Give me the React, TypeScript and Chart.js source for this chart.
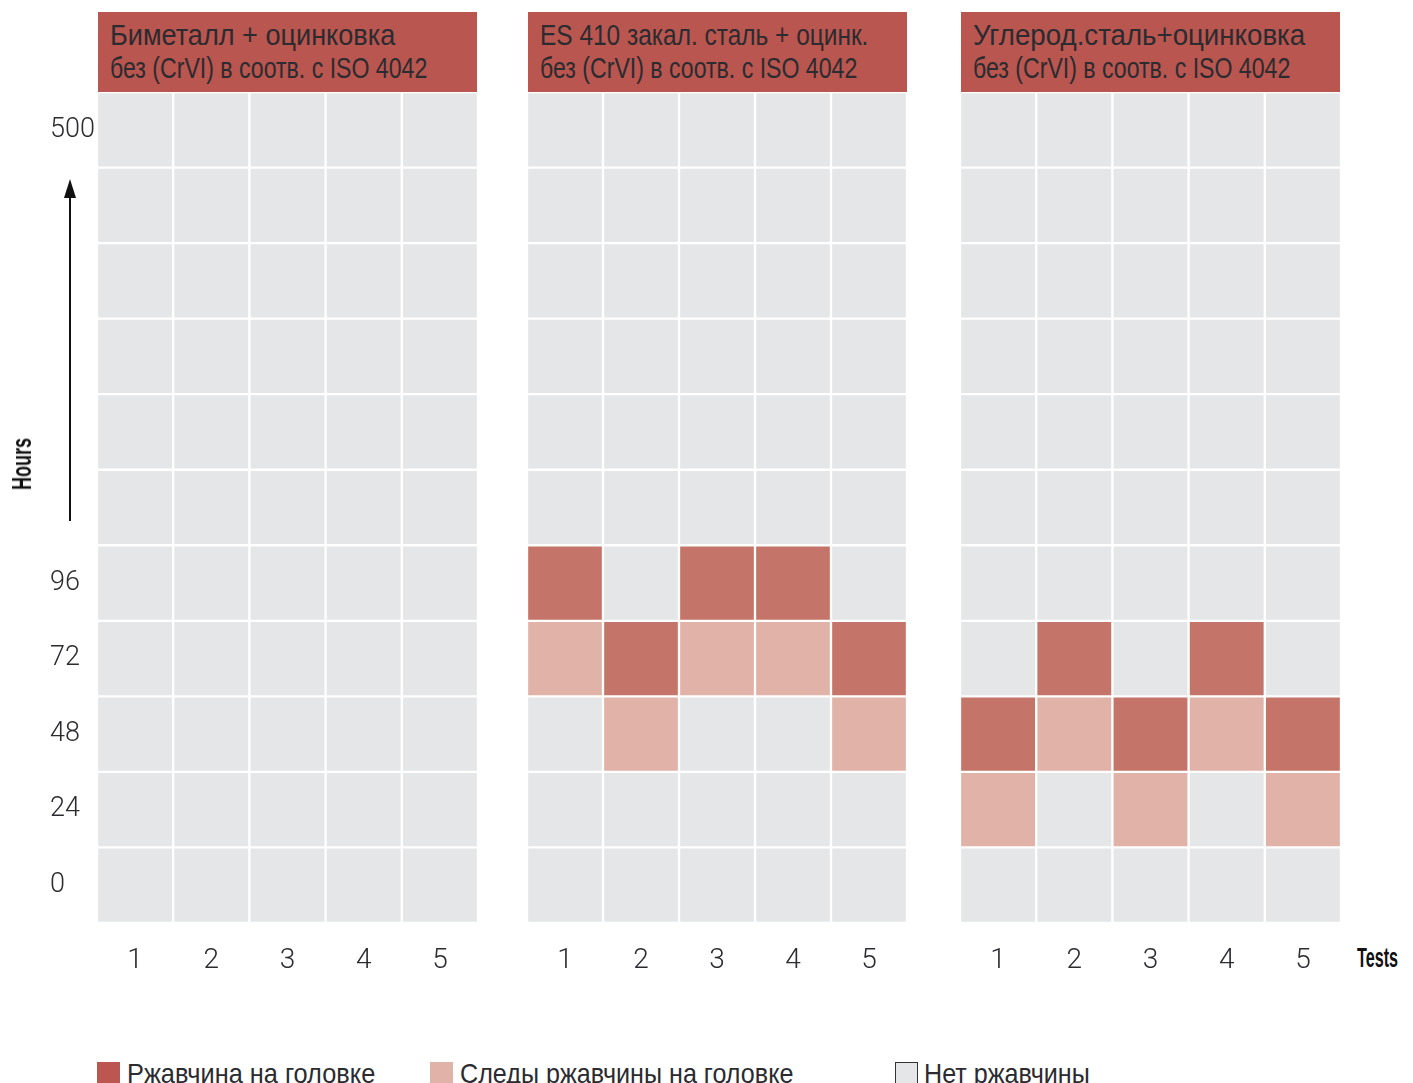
import React, { useEffect, useLayoutEffect, useRef, useState } from 'react';
import { Chart, registerables } from 'chart.js';

Chart.register(...registerables);

// ---------- data ----------
const tests = ['1', '2', '3', '4', '5'];
// row labels, bottom to top (hours)
const hourRowsBottomUp = ['0', '24', '48', '72', '96', '', '', '', '', '', '500'];
// status codes: 0 = no rust, 1 = traces of rust on head, 2 = rust on head
const statusLabels = ['Нет ржавчины', 'Следы ржавчины на головке', 'Ржавчина на головке'];
const statusColors = ['#e5e6e8', '#e0b2a8', '#c47468'];

const panelTitles = [
  ['Биметалл + оцинковка', 'без (CrVI) в соотв. с ISO 4042'],
  ['ES 410 закал. сталь + оцинк.', 'без (CrVI) в соотв. с ISO 4042'],
  ['Углерод.сталь+оцинковка', 'без (CrVI) в соотв. с ISO 4042'],
];

// rows bottom-up (0h, 24h, 48h, 72h, 96h, 5 blank rows, 500h), one value per test
const bimetalRows = [
  [0, 0, 0, 0, 0],
  [0, 0, 0, 0, 0],
  [0, 0, 0, 0, 0],
  [0, 0, 0, 0, 0],
  [0, 0, 0, 0, 0],
  [0, 0, 0, 0, 0],
  [0, 0, 0, 0, 0],
  [0, 0, 0, 0, 0],
  [0, 0, 0, 0, 0],
  [0, 0, 0, 0, 0],
  [0, 0, 0, 0, 0],
];
const es410Rows = [
  [0, 0, 0, 0, 0],
  [0, 0, 0, 0, 0],
  [0, 1, 0, 0, 1],
  [1, 2, 1, 1, 2],
  [2, 0, 2, 2, 0],
  [0, 0, 0, 0, 0],
  [0, 0, 0, 0, 0],
  [0, 0, 0, 0, 0],
  [0, 0, 0, 0, 0],
  [0, 0, 0, 0, 0],
  [0, 0, 0, 0, 0],
];
const carbonRows = [
  [0, 0, 0, 0, 0],
  [1, 0, 1, 0, 1],
  [2, 1, 2, 1, 2],
  [0, 2, 0, 2, 0],
  [0, 0, 0, 0, 0],
  [0, 0, 0, 0, 0],
  [0, 0, 0, 0, 0],
  [0, 0, 0, 0, 0],
  [0, 0, 0, 0, 0],
  [0, 0, 0, 0, 0],
  [0, 0, 0, 0, 0],
];
const panelRows = [bimetalRows, es410Rows, carbonRows];

// ---------- layout / style ----------
const TICK_FONT = "Roboto, 'Liberation Sans', sans-serif";
const TEXT_FONT = "'Liberation Sans', Arial, sans-serif";
const TEXT_COLOR = '#2b2b30';
const CANVAS_TOP = 92;
const AREA_H = 831;
const X_AXIS_H = 90;
const panels = [
  { left: 0, width: 478, yAxis: true },
  { left: 527, width: 380, yAxis: false },
  { left: 960, width: 381, yAxis: false },
];
const headerLefts = [98, 528, 961];
const headerLine1Widths = [285, 328, 332];
const headerLine2Width = 317;

function FitText({ text, width, origin = 'left center', style }: { text: string; width: number; origin?: string; style?: any }) {
  const ref = useRef<HTMLSpanElement | null>(null);
  const [scale, setScale] = useState(1);
  useLayoutEffect(() => {
    if (ref.current) {
      const w = ref.current.offsetWidth;
      if (w > 0) setScale(width / w);
    }
  }, [text, width]);
  return (
    <span
      ref={ref}
      style={{ display: 'inline-block', whiteSpace: 'nowrap', transformOrigin: origin, transform: `scaleX(${scale})`, ...style }}
    >
      {text}
    </span>
  );
}

function Panel({ idx }: { idx: number }) {
  const ref = useRef<HTMLCanvasElement | null>(null);
  const p = panels[idx];
  useEffect(() => {
    if (!ref.current) return;
    const rows = panelRows[idx];
    const tickFont = { family: TICK_FONT, size: 28, weight: '300' as any };
    const scales: any = {
      x: {
        stacked: true,
        grid: { display: false, drawTicks: false },
        border: { display: false },
        ticks: { padding: 21, color: TEXT_COLOR, font: tickFont },
        afterFit: (s: any) => { s.height = X_AXIS_H; s.paddingLeft = 0; s.paddingRight = 0; },
      },
      y: { stacked: true, min: 0, max: hourRowsBottomUp.length, display: false },
    };
    if (p.yAxis) {
      scales.yLab = {
        type: 'category',
        labels: [...hourRowsBottomUp].reverse(),
        offset: true,
        position: 'left',
        grid: { display: false, drawTicks: false },
        border: { display: false },
        ticks: { crossAlign: 'far', padding: 0, color: TEXT_COLOR, font: { ...tickFont, size: 27 }, autoSkip: false },
        afterFit: (s: any) => { s.width = 47; s.paddingTop = 0; s.paddingBottom = 0; },
      };
    }
    const chart = new Chart(ref.current, {
      type: 'bar',
      data: {
        labels: tests,
        datasets: rows.map((row, r) => ({
          label: hourRowsBottomUp[r] + 'h',
          data: row.map(() => 1),
          backgroundColor: row.map((s) => statusColors[s]),
          borderColor: '#ffffff',
          borderWidth: 1.5,
          borderSkipped: false,
          barPercentage: 1,
          categoryPercentage: 1,
          yAxisID: 'y',
        })),
      },
      options: {
        responsive: false,
        animation: false,
        devicePixelRatio: 1,
        layout: { padding: { left: p.yAxis ? 50 : 0, right: 0, top: 0, bottom: 0 } },
        plugins: { legend: { display: false }, tooltip: { enabled: false } },
        scales,
      } as any,
    });
    return () => chart.destroy();
  }, [idx]);
  return (
    <canvas
      ref={ref}
      width={p.width}
      height={AREA_H + X_AXIS_H}
      style={{ position: 'absolute', left: p.left, top: CANVAS_TOP, width: p.width, height: AREA_H + X_AXIS_H }}
    />
  );
}

export default function App() {
  const legendItems = [
    { s: 2, x: 97, tx: 127, w: 248, border: 'none' },
    { s: 1, x: 430, tx: 460, w: 333, border: 'none' },
    { s: 0, x: 895, tx: 924, w: 166, border: '1px solid #333' },
  ];
  return (
    <div style={{ position: 'absolute', left: 0, top: 0, width: 1413, height: 1083, overflow: 'hidden', background: '#fff' }}>
      {panelTitles.map((t, i) => (
        <div
          key={i}
          style={{
            position: 'absolute', left: headerLefts[i], top: 12, width: 379, height: 80,
            background: '#b9564f', color: TEXT_COLOR, boxSizing: 'border-box', paddingLeft: 12, paddingTop: 7,
            fontFamily: TEXT_FONT, fontSize: 29, lineHeight: '33px', whiteSpace: 'nowrap',
          }}
        >
          <div><FitText text={t[0]} width={headerLine1Widths[i]} /></div>
          <div><FitText text={t[1]} width={headerLine2Width} /></div>
        </div>
      ))}
      {[0, 1, 2].map((i) => <Panel key={i} idx={i} />)}
      {/* Hours label and arrow */}
      <div style={{ position: 'absolute', left: 22, top: 464, transform: 'translate(-50%,-50%) rotate(-90deg)', fontFamily: TEXT_FONT, fontWeight: 'bold', fontSize: 28, lineHeight: '28px', color: '#111', whiteSpace: 'nowrap' }}>
        <FitText text="Hours" width={52} origin="center center" />
      </div>
      <div style={{ position: 'absolute', left: 69, top: 196, width: 2, height: 325, background: '#111' }} />
      <div style={{ position: 'absolute', left: 64, top: 179, width: 0, height: 0, borderLeft: '6px solid transparent', borderRight: '6px solid transparent', borderBottom: '19px solid #111' }} />
      <div style={{ position: 'absolute', left: 1357, top: 944, fontFamily: TEXT_FONT, fontWeight: 'bold', fontSize: 28, lineHeight: '28px', color: '#111', whiteSpace: 'nowrap' }}>
        <FitText text="Tests" width={41} />
      </div>
      {legendItems.map((l, i) => (
        <React.Fragment key={i}>
          <div style={{ position: 'absolute', left: l.x, top: 1062, width: 23, height: 23, background: l.s === 2 ? '#bb5750' : statusColors[l.s], border: l.border, boxSizing: 'border-box' }} />
          <div style={{ position: 'absolute', left: l.tx, top: 1060, fontFamily: TEXT_FONT, fontSize: 28, lineHeight: '28px', color: TEXT_COLOR, whiteSpace: 'nowrap' }}>
            <FitText text={statusLabels[l.s]} width={l.w} />
          </div>
        </React.Fragment>
      ))}
    </div>
  );
}
